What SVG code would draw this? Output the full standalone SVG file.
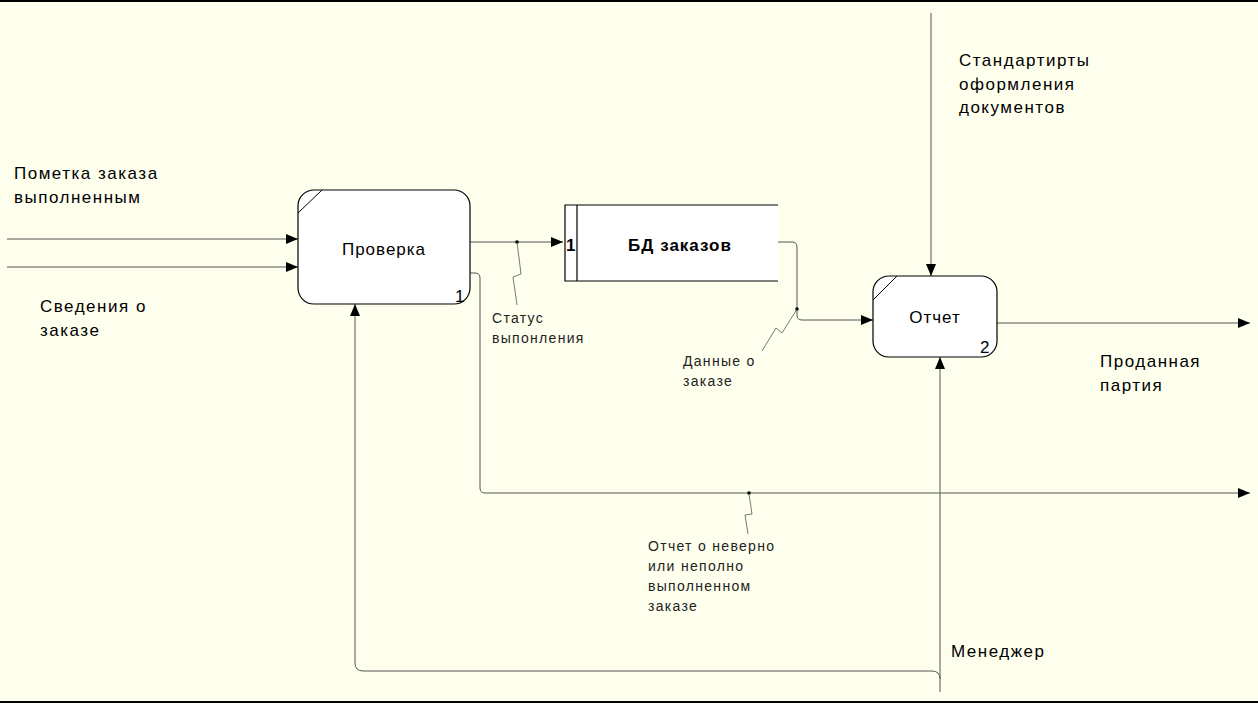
<svg xmlns="http://www.w3.org/2000/svg" width="1258" height="704" viewBox="0 0 1258 704">
<defs>
<marker id="arr" markerWidth="12" markerHeight="10" refX="12" refY="5" orient="auto" markerUnits="userSpaceOnUse">
<path d="M0,0 L12,5 L0,10 Z" fill="#000"/>
</marker>
<style>
.bg{fill:#FFFFEE}
.box{fill:#fff;stroke:#000;stroke-width:1.2}
.ln{fill:none;stroke:#555;stroke-width:1}
.sq{fill:none;stroke:#555;stroke-width:0.8}
.lbl{font-family:"Liberation Sans",Arial,sans-serif;font-size:17px;letter-spacing:1.5px;fill:#000}
.sm{font-family:"Liberation Sans",Arial,sans-serif;font-size:14px;letter-spacing:1.3px;fill:#222}
.nm{font-family:"Liberation Sans",Arial,sans-serif;font-size:17px;letter-spacing:1px;fill:#000;text-anchor:middle}
.num{font-family:"Liberation Sans",Arial,sans-serif;font-size:17px;fill:#000}
.bold{font-family:"Liberation Sans",Arial,sans-serif;font-size:17px;font-weight:bold;letter-spacing:1px;fill:#000}
</style>
</defs>
<rect class="bg" x="0" y="0" width="1258" height="704"/>
<line x1="0" y1="1" x2="1258" y2="1" stroke="#000" stroke-width="2"/>
<line x1="0" y1="702" x2="1258" y2="702" stroke="#000" stroke-width="2"/>

<g id="connectors">
<line class="ln" x1="7" y1="239" x2="298" y2="239" marker-end="url(#arr)"/>
<line class="ln" x1="7" y1="267" x2="298" y2="267" marker-end="url(#arr)"/>
<line class="ln" x1="470" y1="242" x2="563" y2="242" marker-end="url(#arr)"/>
<circle cx="517" cy="242" r="1.8" fill="#000"/>
<polyline class="sq" points="517,242 521,274 513,277 517,305"/>
<path class="ln" d="M470,273 H475 Q480,273 480,278 V488 Q480,493 485,493 H1250" marker-end="url(#arr)"/>
<circle cx="749" cy="493" r="1.8" fill="#000"/>
<polyline class="sq" points="749,494 752,514 745,515 748,534"/>
<path class="ln" d="M778,242 H792 Q797,242 797,247 V315 Q797,320 802,320 H873" marker-end="url(#arr)"/>
<circle cx="797" cy="309" r="1.8" fill="#000"/>
<polyline class="sq" points="797,309 782,333 776,328 762,351"/>
<line class="ln" x1="931" y1="13" x2="931" y2="276" marker-end="url(#arr)"/>
<line class="ln" x1="940" y1="692" x2="940" y2="357" marker-end="url(#arr)"/>
<path class="ln" d="M940,679 Q940,671 932,671 H363 Q355,671 355,663 V304" marker-end="url(#arr)"/>
<line class="ln" x1="997" y1="323" x2="1250" y2="323" marker-end="url(#arr)"/>
</g>

<g id="node-proverka">
<rect class="box" x="298" y="190" width="172" height="114" rx="16" ry="16"/>
<line x1="298" y1="213" x2="322" y2="190" stroke="#000" stroke-width="1"/>
<text class="nm" x="384" y="255">Проверка</text>
<text class="num" x="455" y="302">1</text>
</g>

<g id="node-bd">
<rect x="565" y="205" width="213" height="76" fill="#fff"/>
<path d="M778,205 H565 V281 H778 M577,205 V281" fill="none" stroke="#000" stroke-width="1.2"/>
<text class="bold" x="566" y="251" letter-spacing="0">1</text>
<text class="bold" x="680" y="251" text-anchor="middle">БД заказов</text>
</g>

<g id="node-otchet">
<rect class="box" x="873" y="276" width="124" height="81" rx="16" ry="16"/>
<line x1="873" y1="300" x2="897" y2="276" stroke="#000" stroke-width="1"/>
<text class="nm" x="935" y="323">Отчет</text>
<text class="num" x="980" y="353">2</text>
</g>

<g id="labels">
<text class="lbl" x="14" y="179">Пометка заказа</text>
<text class="lbl" x="14" y="203">выполненным</text>
<text class="lbl" x="40" y="312">Сведения о</text>
<text class="lbl" x="40" y="336">заказе</text>
<text class="sm" x="492" y="323">Статус</text>
<text class="sm" x="492" y="343">выпонления</text>
<text class="sm" x="683" y="366">Данные о</text>
<text class="sm" x="683" y="386">заказе</text>
<text class="sm" x="648" y="551">Отчет о неверно</text>
<text class="sm" x="648" y="571">или неполно</text>
<text class="sm" x="648" y="591">выполненном</text>
<text class="sm" x="648" y="611">заказе</text>
<text class="lbl" x="959" y="66" letter-spacing="0.8">Стандартирты</text>
<text class="lbl" x="959" y="90" letter-spacing="0.8">оформления</text>
<text class="lbl" x="959" y="113" letter-spacing="0.8">документов</text>
<text class="lbl" x="1100" y="367">Проданная</text>
<text class="lbl" x="1100" y="391">партия</text>
<text class="lbl" x="951" y="657" letter-spacing="0.8">Менеджер</text>
</g>
</svg>
